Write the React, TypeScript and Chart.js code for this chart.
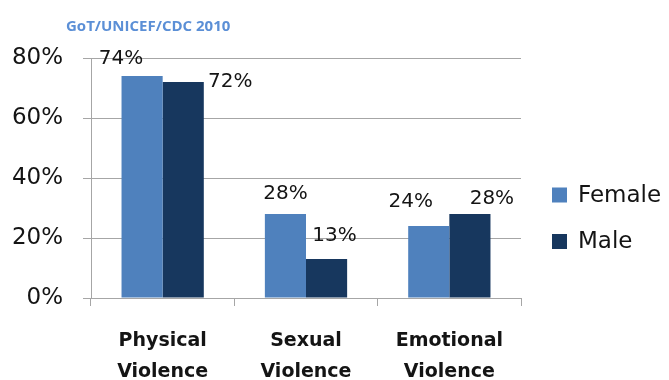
import { useEffect, useRef } from 'react';
import { Chart, registerables } from 'chart.js';

Chart.register(...registerables);

const categories = [
  ['Physical', 'Violence'],
  ['Sexual', 'Violence'],
  ['Emotional', 'Violence'],
];
const seriesNames = ['Female', 'Male'];
const femaleValues = [74, 28, 24];
const maleValues = [72, 13, 28];
const yTickValues = [0, 20, 40, 60, 80];
const sourceNote = 'GoT/UNICEF/CDC 2010';

const FEMALE_COLOR = '#4f81bd';
const MALE_COLOR = '#17375e';
const GRID_COLOR = '#a6a6a6';
const TEXT_COLOR = '#141414';
const FONT = "'DejaVu Sans', sans-serif";

// label placement offsets (style only) relative to each bar's top centre
const labelOffsets = [
  [[-21, -17], [0, -20], [-18, -24]],
  [[47, 0], [8, -23], [22, -15]],
];

const overlayPlugin = {
  id: 'overlay',
  afterDatasetsDraw(chart: any) {
    const ctx = chart.ctx;
    ctx.save();
    // data labels
    ctx.font = `20px ${FONT}`;
    ctx.fillStyle = TEXT_COLOR;
    ctx.textAlign = 'center';
    ctx.textBaseline = 'middle';
    chart.data.datasets.forEach((ds: any, di: number) => {
      const meta = chart.getDatasetMeta(di);
      meta.data.forEach((bar: any, i: number) => {
        const [dx, dy] = labelOffsets[di][i];
        ctx.fillText(`${ds.data[i]}%`, bar.x + dx, bar.y + dy);
      });
    });
    // legend
    const legendX = 552;
    const legendYs = [195, 241.5];
    ctx.font = `23px ${FONT}`;
    ctx.textAlign = 'left';
    chart.data.datasets.forEach((ds: any, di: number) => {
      const y = legendYs[di];
      ctx.fillStyle = ds.backgroundColor;
      ctx.fillRect(legendX, y - 7.5, 15, 15);
      ctx.fillStyle = TEXT_COLOR;
      ctx.fillText(ds.label, legendX + 26, y + 1);
    });
    // source note
    ctx.font = `bold 15px 'Open Sans', sans-serif`;
    ctx.fillStyle = '#5b8fd6';
    ctx.textBaseline = 'alphabetic';
    ctx.fillText(sourceNote, 66, 31);
    ctx.restore();
  },
};

export default function App() {
  const canvasRef = useRef<HTMLCanvasElement | null>(null);

  useEffect(() => {
    if (!canvasRef.current) return;
    const chart = new Chart(canvasRef.current, {
      type: 'bar',
      data: {
        labels: categories,
        datasets: [
          {
            label: seriesNames[0],
            data: femaleValues,
            backgroundColor: FEMALE_COLOR,
            categoryPercentage: 0.574,
            barPercentage: 1,
          },
          {
            label: seriesNames[1],
            data: maleValues,
            backgroundColor: MALE_COLOR,
            categoryPercentage: 0.574,
            barPercentage: 1,
          },
        ],
      },
      options: {
        animation: false,
        responsive: false,
        layout: { padding: { top: 58, right: 148, left: 0, bottom: 0 } },
        plugins: {
          legend: { display: false },
          tooltip: { enabled: false },
          title: { display: false },
        },
        scales: {
          x: {
            grid: {
              drawOnChartArea: false,
              tickLength: 8,
              color: GRID_COLOR,
              offset: true,
            },
            border: { color: GRID_COLOR },
            ticks: {
              font: { family: FONT, size: 19, weight: 'bold', lineHeight: 1.62 },
              color: TEXT_COLOR,
              padding: 20,
              maxRotation: 0,
              autoSkip: false,
            },
            afterFit(scale: any) {
              scale.height = 82;
            },
          },
          y: {
            min: 0,
            max: 80,
            afterBuildTicks(scale: any) {
              scale.ticks = yTickValues.map((v) => ({ value: v }));
            },
            grid: { color: GRID_COLOR, tickLength: 8 },
            border: { color: GRID_COLOR },
            ticks: {
              font: { family: FONT, size: 23 },
              color: TEXT_COLOR,
              padding: 20,
              callback: (v: any) => `${v}%`,
            },
            afterFit(scale: any) {
              scale.width = 91;
            },
          },
        },
      },
      plugins: [overlayPlugin],
    });
    return () => chart.destroy();
  }, []);

  return (
    <div style={{ position: 'fixed', left: 0, top: 0, width: 669, height: 380, background: '#fff' }}>
      <canvas ref={canvasRef} width={669} height={380} />
    </div>
  );
}
